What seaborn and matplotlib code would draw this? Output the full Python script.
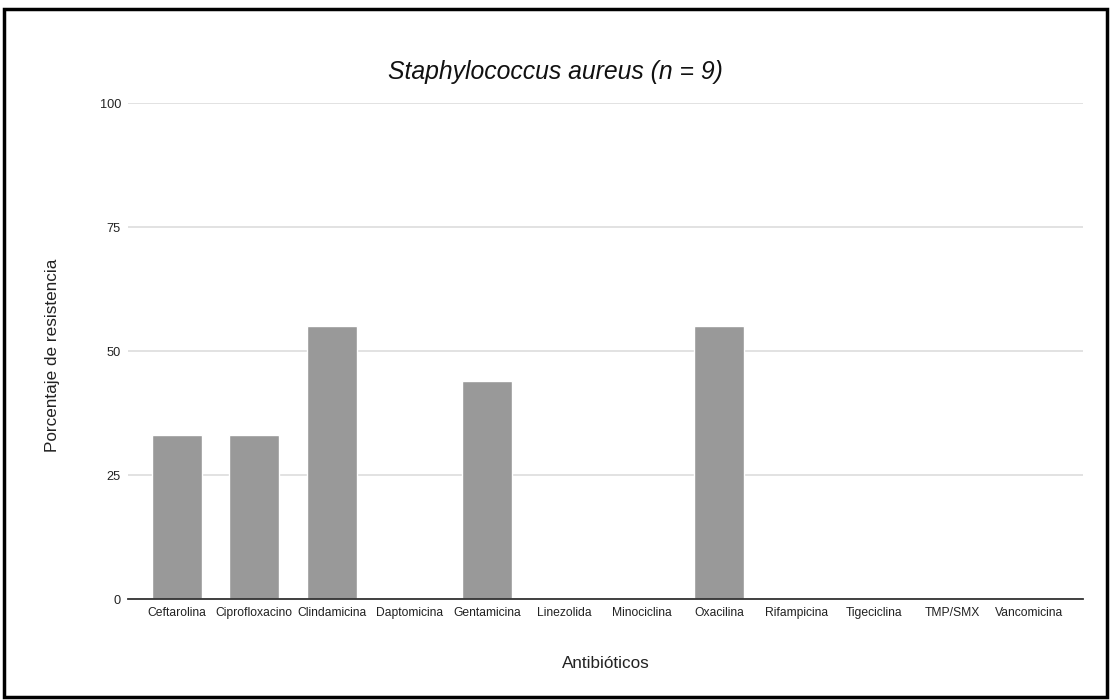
import matplotlib
matplotlib.use("Agg")
import matplotlib.pyplot as plt
import matplotlib.patches as mpatches
import pandas as pd
import seaborn as sns

# Resistance percentages per antibiotic (S. aureus isolates, n = 9)
antibioticos = [
    "Ceftarolina", "Ciprofloxacino", "Clindamicina", "Daptomicina",
    "Gentamicina", "Linezolida", "Minociclina", "Oxacilina",
    "Rifampicina", "Tigeciclina", "TMP/SMX", "Vancomicina",
]
resistencia = [33, 33, 55, 0, 44, 0, 0, 55, 0, 0, 0, 0]
y_ticks = [0, 25, 50, 75, 100]

df = pd.DataFrame({"Antibióticos": antibioticos, "Resistencia": resistencia})

sns.set_style("white")
plt.rcParams["font.family"] = ["Liberation Sans", "DejaVu Sans"]

W, H = 1111, 700
fig = plt.figure(figsize=(W / 100, H / 100), dpi=100)
ax = fig.add_axes([128 / W, 1 - 599 / H, (1083 - 128) / W, (599 - 103.3) / H])

sns.barplot(data=df, x="Antibióticos", y="Resistencia", color="#999999",
            saturation=1, width=0.645, ax=ax, zorder=3)

ax.set_ylim(0, 100)
ax.set_xlim(-0.63, 11.69)
ax.set_yticks(y_ticks)
ax.set_yticklabels([str(t) for t in y_ticks])

# light horizontal gridlines, dark baseline
ax.yaxis.grid(True, color="#dddddd", linewidth=1.2, zorder=0)
ax.xaxis.grid(False)
for side in ["top", "right", "left"]:
    ax.spines[side].set_visible(False)
ax.spines["bottom"].set_color("#333333")
ax.spines["bottom"].set_linewidth(1.3)
ax.spines["bottom"].set_zorder(4)

ax.tick_params(axis="x", length=0, labelsize=8.7, colors="#222222", pad=6)
ax.tick_params(axis="y", length=0, labelsize=9.2, colors="#222222", pad=5)

ax.set_xlabel("Antibióticos", fontsize=12.3, color="#222222")
ax.set_ylabel("Porcentaje de resistencia", fontsize=12.3, color="#222222")
ax.xaxis.set_label_coords(0.5, -0.114)
ax.yaxis.set_label_coords(-0.071, 0.492)

fig.text(0.5, 1 - 72 / H, "Staphylococcus aureus (n = 9)", ha="center",
         va="center", fontsize=17.8, style="italic", color="#111111")

# black frame around the whole figure
frame = mpatches.Rectangle((4 / W, 3 / H), (W - 8) / W, (H - 12) / H,
                           transform=fig.transFigure, fill=False,
                           edgecolor="black", linewidth=2.5)
fig.patches.append(frame)

fig.savefig("out.png", dpi=100)
